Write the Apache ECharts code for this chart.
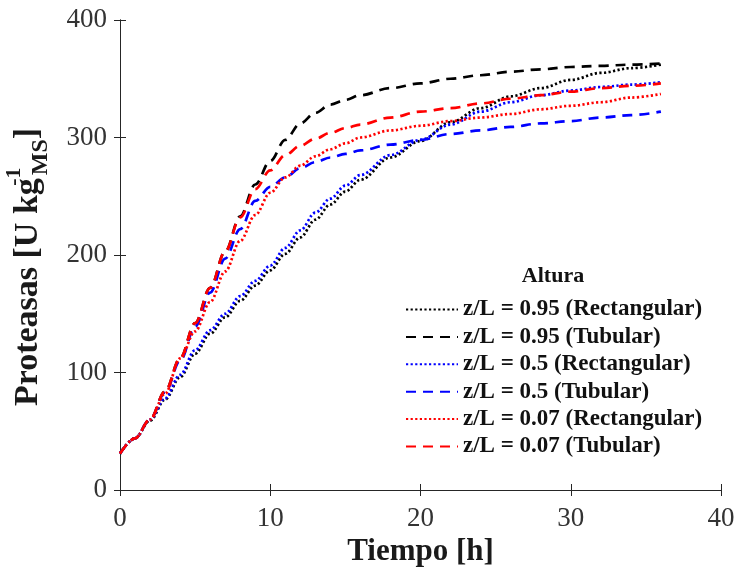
<!DOCTYPE html>
<html>
<head>
<meta charset="utf-8">
<script src="https://cdn.jsdelivr.net/npm/echarts@6/dist/echarts.min.js"></script>
<style>
html,body{margin:0;padding:0;background:#fff;}
#chart{width:736px;height:570px;}
</style>
</head>
<body>
<div id="chart"></div>
<script>
// Time values (h)
const tiempo = [0,1,2,3,4,5,6,7,8,9,10,11,12,13,14,15,16,18,20,22,24,26,28,30,32,34,36];
// Proteasas [U kg-1 MS]
const r95 = [31,44,59,77,96,116,133,147,161,174,187,201,215,230,243,254,264,283,297,313,325,335,342,349,355,359,362];
const t95 = [31,44,60,84,112,142,172,203,233,260,280,298,312,321,328,332,336,342,346,350,353,356,358,360,361,362,363];
const r5  = [31,44,60,78,98,119,136,150,165,178,191,206,221,236,248,259,268,285,298,311,322,330,336,340,343,345,347];
const t5  = [31,44,60,83,110,139,168,197,222,246,258,266,274,279,283,286,289,294,298,303,306,309,312,314,317,319,322];
const r07 = [31,44,60,82,112,135,160,186,212,234,253,266,276,284,290,295,300,306,310,314,317,320,324,327,330,334,337];
const t07 = [31,44,60,84,112,142,172,203,232,256,272,285,293,299,304,308,311,317,322,325,329,333,336,339,342,344,346];

const seriesNames = [
  'z/L = 0.95 (Rectangular)',
  'z/L = 0.95 (Tubular)',
  'z/L = 0.5 (Rectangular)',
  'z/L = 0.5 (Tubular)',
  'z/L = 0.07 (Rectangular)',
  'z/L = 0.07 (Tubular)'
];
const seriesValues = [r95, t95, r5, t5, r07, t07];
const seriesColors = ['#000000','#000000','#0000ff','#0000ff','#ff0000','#ff0000'];
const dotted = [2.2, 2.4];
const dashed = [10, 7];
const seriesDash = [dotted, dashed, dotted, dashed, dotted, dashed];

const xTicks = {min:0, max:40, interval:10};
const yTicks = {min:0, max:400, interval:100};

const FONT = 'Liberation Serif';
const AX = '#262626';
const LBL = '#333333';

const chart = echarts.init(document.getElementById('chart'), null, {renderer:'canvas'});

const series = seriesNames.map((name, i) => ({
  name: name,
  type: 'line',
  xAxisIndex: 0,
  yAxisIndex: 0,
  data: tiempo.map((t, k) => [t, seriesValues[i][k]]),
  showSymbol: false,
  symbol: 'none',
  smooth: 0.35,
  smoothMonotone: 'x',
  lineStyle: {color: seriesColors[i], width: 2.7, type: seriesDash[i], cap: 'butt'},
  itemStyle: {color: seriesColors[i]},
  emphasis: {disabled: true},
  z: 2 + i
}));

const baseAxisLine = {show: true, lineStyle: {color: AX, width: 1}};
const tick = {show: true, inside: true, length: 6, lineStyle: {color: AX, width: 1}};

chart.setOption({
  backgroundColor: '#ffffff',
  animation: false,
  grid: {left: 120, right: 15, top: 20, bottom: 80, containLabel: false, outerBoundsMode: 'none'},
  xAxis: [
    {
      type: 'value', position: 'bottom', ...xTicks,
      axisLine: baseAxisLine, axisTick: tick, splitLine: {show: false},
      axisLabel: {color: LBL, fontFamily: FONT, fontSize: 27, margin: 15},
      name: 'Tiempo [h]', nameLocation: 'middle', nameGap: 46,
      nameTextStyle: {color: '#1a1a1a', fontFamily: FONT, fontWeight: 'bold', fontSize: 31}
    },
    {
      type: 'value', position: 'top', ...xTicks,
      axisLine: baseAxisLine, axisTick: tick, splitLine: {show: false},
      axisLabel: {show: false}
    }
  ],
  yAxis: [
    {
      type: 'value', position: 'left', ...yTicks,
      axisLine: baseAxisLine, axisTick: tick, splitLine: {show: false},
      axisLabel: {color: LBL, fontFamily: FONT, fontSize: 27, margin: 13},
      name: '{a|Proteasas [U kg}{sup|-1}{sub|MS}{a|]}',
      nameLocation: 'middle', nameRotate: 90, nameGap: 67,
      nameTextStyle: {
        color: '#1a1a1a', fontFamily: FONT, fontWeight: 'bold', fontSize: 34,
        padding: [0, 24, 0, 0],
        rich: {
          a: {fontFamily: FONT, fontWeight: 'bold', fontSize: 34, lineHeight: 50, color: '#1a1a1a', verticalAlign: 'middle'},
          sup: {fontFamily: FONT, fontWeight: 'bold', fontSize: 22, lineHeight: 24, color: '#1a1a1a', verticalAlign: 'top', width: 3},
          sub: {fontFamily: FONT, fontWeight: 'bold', fontSize: 24, lineHeight: 12, color: '#1a1a1a', verticalAlign: 'bottom'}
        }
      }
    },
    {
      type: 'value', position: 'right', ...yTicks,
      axisLine: baseAxisLine, axisTick: tick, splitLine: {show: false},
      axisLabel: {show: false}
    }
  ],
  legend: {
    data: seriesNames,
    orient: 'vertical',
    left: 405, top: 298,
    padding: 0,
    itemWidth: 52, itemHeight: 14, itemGap: 4.4,
    selectedMode: false,
    itemStyle: {opacity: 0, borderWidth: 0},
    textStyle: {color: '#111', fontFamily: FONT, fontWeight: 'bold', fontSize: 23}
  },
  graphic: [
    {type: 'text', x: 553, y: 276, silent: true,
     style: {text: 'Altura', fill: '#111', font: 'bold 22px "Liberation Serif"', align: 'center', verticalAlign: 'middle'}}
  ],
  series: series
});
</script>
</body>
</html>
